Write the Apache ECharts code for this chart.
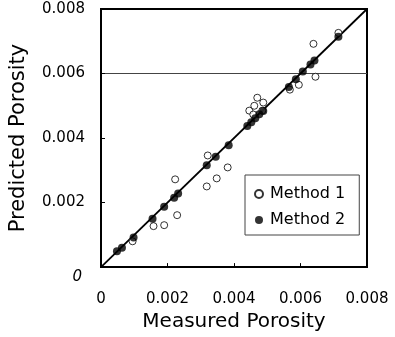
<!DOCTYPE html>
<html>
<head>
<meta charset="utf-8">
<script src="https://cdn.jsdelivr.net/npm/echarts@6/dist/echarts.min.js"></script>
<style>
  html, body { margin: 0; padding: 0; background: #fff; }
  #chart { width: 395px; height: 337px; }
</style>
</head>
<body>
<div id="chart"></div>
<script>
// measured vs predicted porosity
const method1X = [0.00095, 0.00158, 0.0019, 0.00223, 0.00229, 0.00321, 0.00318, 0.00348, 0.00381,
  0.00446, 0.00461, 0.0047, 0.00488, 0.00485, 0.00458, 0.00568, 0.00595, 0.00645, 0.00639, 0.00714];
const method1Y = [0.0008, 0.00127, 0.0013, 0.00272, 0.00161, 0.00346, 0.0025, 0.00275, 0.00309,
  0.00485, 0.005, 0.00525, 0.0051, 0.00485, 0.00473, 0.0055, 0.00565, 0.0059, 0.00692, 0.00726];

const method2X = [0.00048, 0.00063, 0.00098, 0.00155, 0.0019, 0.0022, 0.00232, 0.00318, 0.00345,
  0.00384, 0.0044, 0.00452, 0.00464, 0.00476, 0.00488, 0.00565, 0.00586, 0.00607, 0.0063, 0.00642, 0.00714];
const method2Y = [0.00049, 0.0006, 0.00092, 0.0015, 0.00187, 0.00215, 0.00228, 0.00316, 0.00342,
  0.00378, 0.00437, 0.00449, 0.00461, 0.00474, 0.00484, 0.00558, 0.00582, 0.00606, 0.00628, 0.0064, 0.00714];

const axisTicks = [0, 0.002, 0.004, 0.006, 0.008];
const refLevel = 0.006;

const font = "DejaVu Sans";
const zip = (xs, ys) => xs.map((x, i) => [x, ys[i]]);

// only the 0.006 grid line is drawn in the original
const gridColors = axisTicks.map((t) => (t === refLevel ? "#444" : "rgba(0,0,0,0)"));

const chart = echarts.init(document.getElementById("chart"), null, { renderer: "canvas" });

chart.setOption({
  backgroundColor: "#fff",
  animation: false,
  grid: { left: 98, top: 9, width: 269, height: 260, show: true, borderColor: "#000", borderWidth: 2 },
  legend: {
    orient: "vertical",
    left: 245,
    top: 175,
    padding: [11, 14, 7, 9],
    itemGap: 10,
    itemWidth: 8,
    itemHeight: 8,
    borderColor: "#444",
    borderWidth: 1,
    textStyle: { fontFamily: font, fontSize: 16, color: "#000", padding: [0, 0, 0, 2] },
    data: ["Method 1", "Method 2"],
  },
  xAxis: {
    type: "value",
    min: axisTicks[0],
    max: axisTicks[axisTicks.length - 1],
    interval: 0.002,
    name: "Measured Porosity",
    nameLocation: "middle",
    nameGap: 42,
    nameTextStyle: { fontFamily: font, fontSize: 20, color: "#000" },
    axisLine: { lineStyle: { color: "#000", width: 2 } },
    axisTick: { inside: true, length: 4, lineStyle: { color: "#000" } },
    axisLabel: { margin: 25, fontFamily: font, fontSize: 15, color: "#000" },
    splitLine: { show: false },
  },
  yAxis: {
    type: "value",
    min: axisTicks[0],
    max: axisTicks[axisTicks.length - 1],
    interval: 0.002,
    name: "Predicted Porosity",
    nameLocation: "middle",
    nameGap: 72,
    nameTextStyle: { fontFamily: font, fontSize: 21, color: "#000" },
    axisLine: { lineStyle: { color: "#000", width: 2 } },
    axisTick: { inside: true, length: 4, lineStyle: { color: "#000" } },
    axisLabel: {
      margin: 16,
      fontFamily: font,
      fontSize: 15,
      color: "#000",
      // the zero on this axis sits a bit low and slanted in the original
      formatter: (v) => (v === 0 ? "{z|0}" : String(v)),
      rich: { z: { fontFamily: font, fontSize: 15, fontStyle: "italic", padding: [20, 3, 0, 0] } },
    },
    splitLine: { show: true, lineStyle: { color: gridColors, width: 1 } },
  },
  series: [
    {
      type: "line",
      data: [[axisTicks[0], axisTicks[0]], [axisTicks[4], axisTicks[4]]],
      symbol: "none",
      silent: true,
      lineStyle: { color: "#000", width: 1.8 },
      z: 1,
    },
    {
      name: "Method 1",
      type: "scatter",
      data: zip(method1X, method1Y),
      symbol: "circle",
      symbolSize: 7,
      itemStyle: { color: "#fff", borderColor: "#000", borderWidth: 1 },
      z: 2,
    },
    {
      name: "Method 2",
      type: "scatter",
      data: zip(method2X, method2Y),
      symbol: "circle",
      symbolSize: 8,
      itemStyle: { color: "#000" },
      z: 3,
    },
  ],
});
</script>
</body>
</html>
